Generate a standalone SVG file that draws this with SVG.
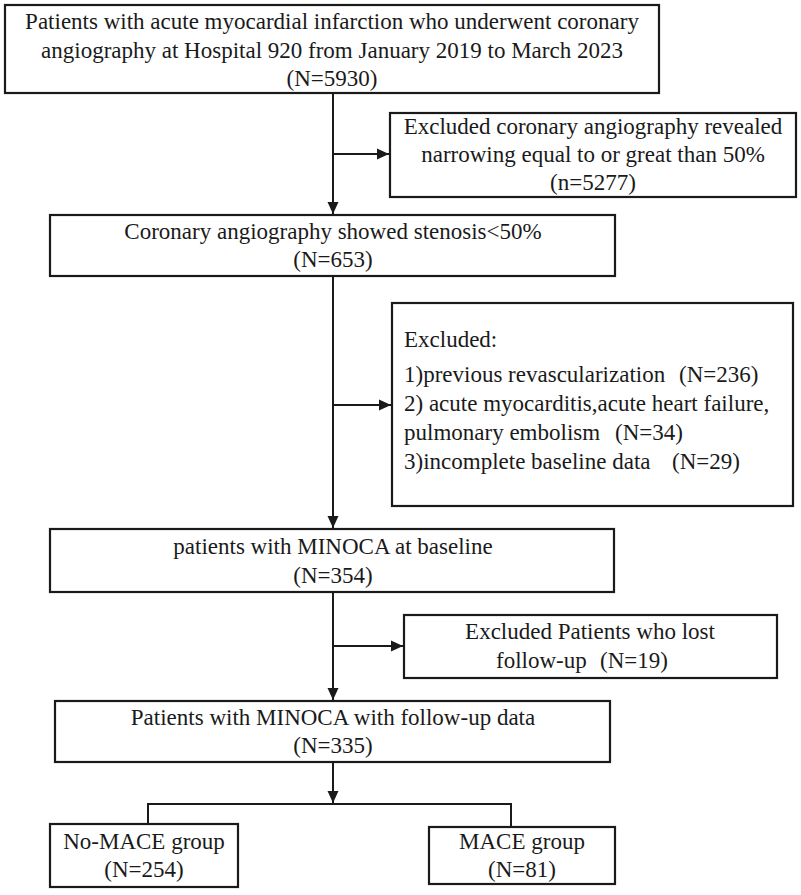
<svg xmlns="http://www.w3.org/2000/svg" width="801" height="895" viewBox="0 0 801 895">
<defs>
<marker id="arr" markerUnits="userSpaceOnUse" markerWidth="13" markerHeight="12" refX="12" refY="6" orient="auto">
<path d="M0,0.5 L12,6 L0,11.5 z" fill="#1a1a1a"/>
</marker>
<style>
.box{fill:#fff;stroke:#1a1a1a;stroke-width:2.2}
text{font-family:'Liberation Serif','Times New Roman',Times,serif;font-size:23px;fill:#1a1a1a}
.c{text-anchor:middle}
.ln{fill:none;stroke:#1a1a1a;stroke-width:2}
</style>
</defs>
<rect width="801" height="895" fill="#fff"/>
<g id="connectors">
<line class="ln" x1="333" y1="93" x2="333" y2="214" marker-end="url(#arr)"/>
<line class="ln" x1="333" y1="154" x2="389" y2="154" marker-end="url(#arr)"/>
<line class="ln" x1="333" y1="277" x2="333" y2="528" marker-end="url(#arr)"/>
<line class="ln" x1="333" y1="405" x2="391" y2="405" marker-end="url(#arr)"/>
<line class="ln" x1="333" y1="593" x2="333" y2="700" marker-end="url(#arr)"/>
<line class="ln" x1="333" y1="646" x2="403" y2="646" marker-end="url(#arr)"/>
<line class="ln" x1="333" y1="763" x2="333" y2="803" marker-end="url(#arr)"/>
<polyline class="ln" points="148,824 148,804 511,804 511,827"/>
</g>
<g font-family="Liberation Serif, Times New Roman, serif">
<g id="n1">
<rect class="box" x="5" y="5" width="654" height="88"/>
<text class="c" x="332" y="29">Patients with acute myocardial infarction who underwent coronary</text>
<text class="c" x="332" y="58">angiography at Hospital 920 from January 2019 to March 2023</text>
<text class="c" x="332" y="86">(N=5930)</text>
</g>
<g id="n2">
<rect class="box" x="390" y="113" width="406" height="84"/>
<text class="c" x="593" y="134">Excluded coronary angiography revealed</text>
<text class="c" x="593" y="162">narrowing equal to or great than 50%</text>
<text class="c" x="593" y="190">(n=5277)</text>
</g>
<g id="n3">
<rect class="box" x="50" y="215" width="565" height="61"/>
<text class="c" x="333" y="239">Coronary angiography showed stenosis&lt;50%</text>
<text class="c" x="333" y="267">(N=653)</text>
</g>
<g id="n4">
<rect class="box" x="392" y="303" width="401" height="203"/>
<text x="404" y="347">Excluded:</text>
<text x="404" y="382">1)previous revascularization<tspan x="679">(N=236)</tspan></text>
<text x="404" y="411">2) acute myocarditis,acute heart failure,</text>
<text x="404" y="440">pulmonary embolism<tspan x="615">(N=34)</tspan></text>
<text x="404" y="469">3)incomplete baseline data<tspan x="672">(N=29)</tspan></text>
</g>
<g id="n5">
<rect class="box" x="50" y="529" width="564" height="63"/>
<text class="c" x="333" y="554">patients with MINOCA at baseline</text>
<text class="c" x="333" y="583">(N=354)</text>
</g>
<g id="n6">
<rect class="box" x="404" y="615" width="373" height="63"/>
<text class="c" x="590" y="639">Excluded Patients who lost</text>
<text x="496" y="668">follow-up<tspan x="600">(N=19)</tspan></text>
</g>
<g id="n7">
<rect class="box" x="55" y="701" width="555" height="61"/>
<text class="c" x="333" y="725">Patients with MINOCA with follow-up data</text>
<text class="c" x="333" y="753">(N=335)</text>
</g>
<g id="n8">
<rect class="box" x="50" y="824" width="188" height="63"/>
<text class="c" x="144" y="849">No-MACE group</text>
<text class="c" x="144" y="877">(N=254)</text>
</g>
<g id="n9">
<rect class="box" x="429" y="827" width="186" height="57"/>
<text class="c" x="522" y="849">MACE group</text>
<text class="c" x="522" y="877">(N=81)</text>
</g>
</g>
</svg>
